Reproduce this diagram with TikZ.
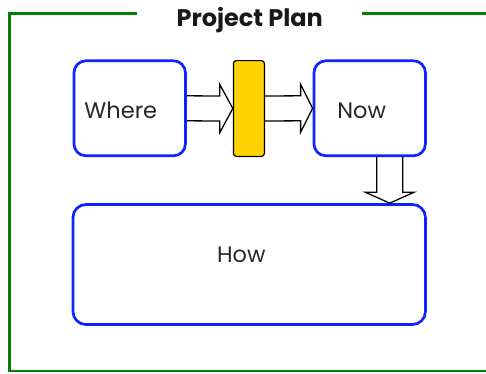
\documentclass[tikz,border=0pt]{standalone}
\usepackage{fontspec}
\setmainfont{Poppins}
\usetikzlibrary{calc}
\definecolor{frameGreen}{RGB}{0,130,0}
\definecolor{boxBlue}{RGB}{15,35,255}
\definecolor{barGold}{RGB}{255,210,0}
\tikzset{
  planbox/.style={draw=boxBlue, line width=2.7pt, rounded corners=12pt,
    minimum width=111.5pt, minimum height=95pt, inner sep=0pt},
  gatebar/.style={draw=black, fill=barGold, line width=1.2pt, rounded corners=3pt,
    minimum width=31pt, minimum height=95.8pt, inner sep=0pt},
  boxlabel/.style={anchor=base, inner sep=0pt, font=\fontsize{22.5}{26}\selectfont, text=black!85},
  titlelabel/.style={anchor=base, inner sep=0pt, font=\fontsize{24}{28}\selectfont\bfseries, text=black!90},
  blockarrow/.style={draw=black, line width=1.3pt, line join=miter},
  frameline/.style={draw=frameGreen, line width=2.5pt}
}
\begin{document}
\begin{tikzpicture}[x=1pt, y=-1pt]
  \useasboundingbox (0,0) rectangle (486,373);

  % outer frame with a gap for the title
  \draw[frameline] (137,13.3) -- (9.3,13.3) -- (9.3,371) -- (495,371);
  \draw[frameline] (361.7,13.3) -- (495,13.3);
  \node[titlelabel] (title) at (249.7,26) {Project Plan};

  % boxes
  \node[planbox] (where) at (129.7,108.3) {};
  \node[gatebar] (bar) at (248.9,108.5) {};
  \node[planbox] (now) at (369.7,108.3) {};
  \node[planbox, rounded corners=13pt, minimum width=352.5pt, minimum height=120pt] (how) at (249.2,264.5) {};

  % box texts
  \node[boxlabel] (whereText) at (120.8,118.3) {Where};
  \node[boxlabel] (nowText) at (361.7,118.3) {Now};
  \node[boxlabel] (howText) at (241.3,262.3) {How};

  % block arrow: where -> bar
  \draw[blockarrow]
    ($(where.east)+(0,-12.5)$) -- ($(bar.west)+(-13,-12.5)$) -- ($(bar.west)+(-13,-24)$)
    -- (bar.west)
    -- ($(bar.west)+(-13,24)$) -- ($(bar.west)+(-13,12.5)$) -- ($(where.east)+(0,12.5)$);

  % block arrow: bar -> now
  \draw[blockarrow]
    ($(bar.east)+(0,-12.5)$) -- ($(now.west)+(-12,-12.5)$) -- ($(now.west)+(-12,-24)$)
    -- (now.west)
    -- ($(now.west)+(-12,24)$) -- ($(now.west)+(-12,12.5)$) -- ($(bar.east)+(0,12.5)$);

  % block arrow: now -> how
  \coordinate (downStart) at ($(now.south)+(20,0)$);
  \coordinate (downTip) at (downStart |- how.north);
  \draw[blockarrow]
    ($(downStart)+(-13,0)$) -- ($(downTip)+(-13,-11)$) -- ($(downTip)+(-24.5,-11)$)
    -- (downTip)
    -- ($(downTip)+(24.5,-11)$) -- ($(downTip)+(13,-11)$) -- ($(downStart)+(13,0)$);
\end{tikzpicture}
\end{document}
